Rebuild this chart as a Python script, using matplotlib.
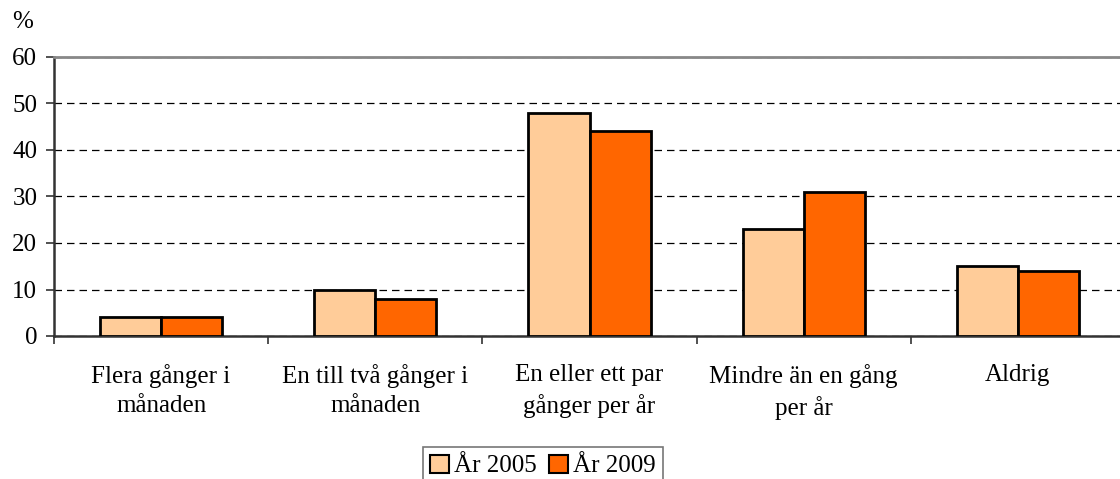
import matplotlib.pyplot as plt
import numpy as np

plt.rcParams['font.family'] = ['Liberation Serif', 'DejaVu Serif']

categories = ['Flera gånger i\nmånaden', 'En till två gånger i\nmånaden',
              'En eller ett par\ngånger per år', 'Mindre än en gång\nper år', 'Aldrig']
series_names = ['År 2005', 'År 2009']
values_2005 = [4, 10, 48, 23, 15]
values_2009 = [4, 8, 44, 31, 14]
colors = ['#FFCC99', '#FF6600']
y_ticks = [0, 10, 20, 30, 40, 50, 60]

fs = 18

fig = plt.figure(figsize=(11.2, 4.79), dpi=100)
# axes reaches a little past the right edge, like the original
ax = fig.add_axes([54 / 1120, 143 / 479, 1071 / 1120, 279 / 479])

x = np.arange(len(categories))
w = 0.285
ax.bar(x - w / 2, values_2005, w, color=colors[0], edgecolor='black', linewidth=2,
       label=series_names[0], zorder=3)
ax.bar(x + w / 2, values_2009, w, color=colors[1], edgecolor='black', linewidth=2,
       label=series_names[1], zorder=3)

ax.set_xlim(-0.5, 4.5)
ax.set_ylim(0, 60)
ax.set_yticks(y_ticks)
ax.set_yticklabels([str(t) for t in y_ticks], fontsize=fs)
ax.yaxis.grid(True, linestyle=(0, (6, 4)), color='black', linewidth=0.9, zorder=0)
ax.set_axisbelow(True)

# category boundaries carry the ticks, labels sit in between
ax.set_xticks(np.arange(-0.5, 5, 1.0))
ax.set_xticklabels([])
ax.set_xticks(x, minor=True)
ax.set_xticklabels(categories, minor=True, fontsize=fs, linespacing=1.45)
ax.tick_params(axis='x', which='minor', length=0, pad=20)
ax.tick_params(axis='x', which='major', length=6, width=1.2, color='#333333')
ax.tick_params(axis='y', length=6, width=1.2, color='#333333', pad=6)

for side in ['left', 'bottom']:
    ax.spines[side].set_color('#333333')
    ax.spines[side].set_linewidth(1.8)
ax.spines['top'].set_color('#888888')
ax.spines['top'].set_linewidth(2)
ax.spines['right'].set_visible(False)

fig.text(12 / 1120, 1 - 22 / 479, '%', fontsize=fs, va='center')

leg = fig.legend(loc='upper center', bbox_to_anchor=(543 / 1120, 1 - 447 / 479), ncol=2,
                 fontsize=fs, frameon=True, fancybox=False, edgecolor='#555555',
                 handlelength=0.75, handleheight=0.75, handletextpad=0.2,
                 columnspacing=0.5, borderpad=0.3, borderaxespad=0)
leg.get_frame().set_linewidth(1.2)
for h in leg.legend_handles:
    h.set_linewidth(1.5)

fig.savefig('out.png', dpi=100)
